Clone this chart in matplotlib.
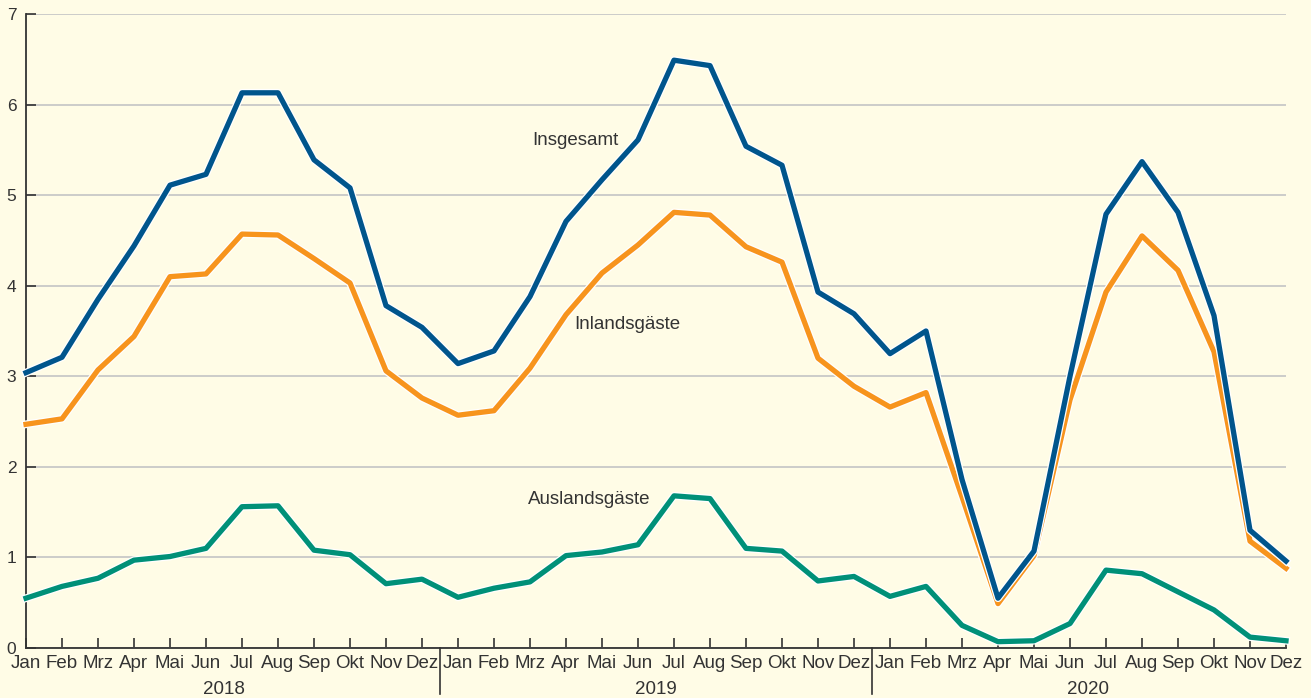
import matplotlib
matplotlib.use("Agg")
import matplotlib.pyplot as plt
import matplotlib.patheffects as pe
import numpy as np

plt.rcParams['font.family'] = ['Liberation Sans', 'DejaVu Sans']

months = ['Jan', 'Feb', 'Mrz', 'Apr', 'Mai', 'Jun', 'Jul', 'Aug', 'Sep', 'Okt', 'Nov', 'Dez']
years = ['2018', '2019', '2020']

# Übernachtungen in Mio., Jan 2018 - Dez 2020
insgesamt = [3.04, 3.21, 3.85, 4.44, 5.11, 5.23, 6.13, 6.13, 5.39, 5.08, 3.78, 3.54,
             3.14, 3.28, 3.88, 4.71, 5.17, 5.61, 6.49, 6.43, 5.54, 5.33, 3.93, 3.69,
             3.25, 3.50, 1.86, 0.55, 1.07, 3.00, 4.79, 5.37, 4.81, 3.67, 1.30, 0.96]
inland = [2.47, 2.53, 3.07, 3.44, 4.10, 4.13, 4.57, 4.56, 4.30, 4.03, 3.06, 2.76,
          2.57, 2.62, 3.09, 3.68, 4.14, 4.45, 4.81, 4.78, 4.43, 4.26, 3.20, 2.89,
          2.66, 2.82, 1.67, 0.49, 1.02, 2.74, 3.93, 4.55, 4.17, 3.27, 1.18, 0.88]
ausland = [0.55, 0.68, 0.77, 0.97, 1.01, 1.10, 1.56, 1.57, 1.08, 1.03, 0.71, 0.76,
           0.56, 0.66, 0.73, 1.02, 1.06, 1.14, 1.68, 1.65, 1.10, 1.07, 0.74, 0.79,
           0.57, 0.68, 0.25, 0.07, 0.08, 0.27, 0.86, 0.82, 0.62, 0.42, 0.12, 0.08]

bg = '#fffce6'
dark = '#333333'

fig = plt.figure(figsize=(13.11, 6.98), dpi=100, facecolor=bg)
ax = fig.add_axes([26 / 1311, 50 / 698, 1260 / 1311, 634 / 698])
ax.set_facecolor(bg)

x = np.arange(len(insgesamt))
outline = [pe.Stroke(linewidth=5.6, foreground='white'), pe.Normal()]
ax.plot(x, ausland, color='#009078', lw=3.8, path_effects=outline, clip_on=False, zorder=3)
ax.plot(x, inland, color='#f7941d', lw=3.8, path_effects=outline, clip_on=False, zorder=4)
ax.plot(x, insgesamt, color='#00558c', lw=3.8, path_effects=outline, clip_on=False, zorder=5)

# series labels
ax.text(15.25, 5.6, 'Insgesamt', ha='center', va='center', fontsize=13.5, color=dark)
ax.text(16.7, 3.57, 'Inlandsgäste', ha='center', va='center', fontsize=13.5, color=dark)
ax.text(15.65, 1.64, 'Auslandsgäste', ha='center', va='center', fontsize=13.5, color=dark)

ax.set_xlim(0, 35)
ax.set_ylim(0, 7)
ax.set_yticks(range(8))
ax.yaxis.grid(True, color='#c8c8c8', lw=1.3)
ax.set_axisbelow(True)

ax.set_xticks(x)
ax.set_xticklabels(months * len(years), fontsize=13.5, color=dark)
ax.tick_params(axis='x', direction='in', length=7, width=1.2, color=dark, pad=5)
ax.tick_params(axis='y', direction='in', length=7, width=1.2, color=dark, pad=7,
               labelsize=12.5, labelcolor=dark)

for s in ['top', 'right']:
    ax.spines[s].set_visible(False)
for s in ['left', 'bottom']:
    ax.spines[s].set_color(dark)
    ax.spines[s].set_linewidth(1.3)

# year labels and separators below the axis
for i, yr in enumerate(years):
    ax.text(i * 12 + 5.5, -0.066, yr, transform=ax.get_xaxis_transform(),
            ha='center', va='center', fontsize=13.5, color=dark)
    if i > 0:
        ax.plot([i * 12 - 0.5] * 2, [0, -0.072], transform=ax.get_xaxis_transform(),
                color=dark, lw=1.2, clip_on=False)

fig.savefig('out.png', dpi=100, facecolor=bg)
